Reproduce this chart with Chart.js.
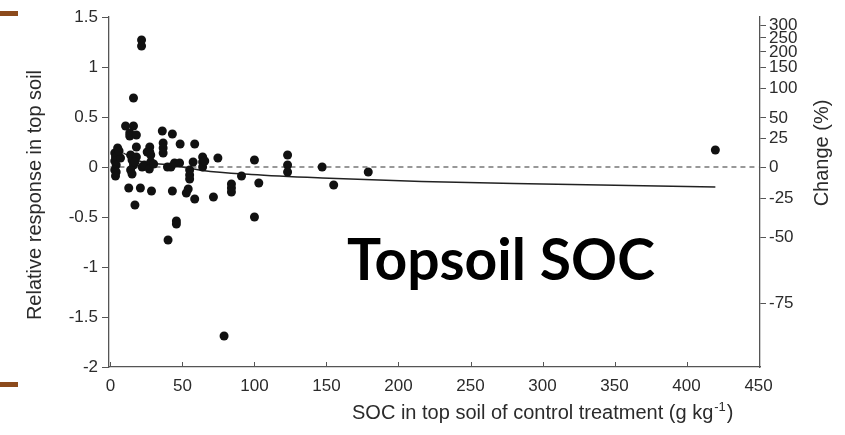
<!DOCTYPE html>
<html>
<head>
<meta charset="utf-8">
<title>Topsoil SOC</title>
<script src="https://cdn.jsdelivr.net/npm/chart.js@4/dist/chart.umd.min.js"></script>
<style>
    html, body { margin: 0; padding: 0; background: #fff; }
    #wrap { position: relative; width: 845px; height: 435px; }
    .mark { position: absolute; left: 0; width: 18px; height: 5px; background: #8c4a1c; }
</style>
</head>
<body>
<div id="wrap">
    <canvas id="socChart" width="845" height="435"></canvas>
    <div class="mark" style="top: 11px;"></div>
    <div class="mark" style="top: 382px;"></div>
</div>
<script>
    'use strict';

    // SOC of control treatment (g kg-1) and relative response
    var socX = [3, 3.5, 3, 4, 3, 4, 3.5, 5, 7, 6,
        10.5, 16, 13.4, 13.4, 18, 16, 21.6, 21.6, 18, 14, 15, 16, 14, 15, 12.7, 17, 18, 17,
        22, 23.5, 20.8, 25.5, 28, 27.3, 27.3, 28, 27, 30, 28.5,
        36, 43, 36.6, 36.6, 36.6, 39.6, 42, 44.5, 48, 48.4, 43, 40, 45.8, 45.8,
        52.7, 54, 55, 55, 55, 57.4, 58.5, 58.5, 64, 64, 64, 65.5,
        71.5, 74.6, 78.9, 84, 84, 84, 91, 100, 100, 103,
        123, 123, 123, 147, 155, 179, 420];
    var respY = [0.14, 0.10, 0.06, 0.02, -0.03, -0.05, -0.09, 0.19, 0.09, 0.16,
        0.41, 0.41, 0.34, 0.31, 0.32, 0.69, 1.27, 1.21, 0.20, 0.12, 0.07, 0.02, -0.03, -0.07, -0.21, -0.38, 0.10, 0.05,
        0.0, 0.02, -0.21, 0.15, 0.12, 0.20, 0.15, 0.05, -0.02, 0.03, -0.24,
        0.36, 0.33, 0.24, 0.19, 0.14, 0.0, 0.0, 0.04, 0.04, 0.23, -0.24, -0.73, -0.54, -0.57,
        -0.26, -0.22, -0.03, -0.08, -0.12, 0.05, 0.23, -0.32, 0.10, 0.05, 0.0, 0.06,
        -0.30, 0.09, -1.69, -0.17, -0.21, -0.25, -0.09, 0.07, -0.50, -0.16,
        0.12, 0.02, -0.05, 0.0, -0.18, -0.05, 0.17];

    // fitted curve, read at a few places
    var trendX = [9, 20, 42, 64, 98, 147, 216, 300, 360, 420];
    var trendY = [0.14, 0.06, 0.02, -0.035, -0.075, -0.11, -0.145, -0.17, -0.185, -0.20];

    // zero reference line
    var zeroX = [0, 450];
    var zeroY = [0, 0];

    var xTicks = [0, 50, 100, 150, 200, 250, 300, 350, 400, 450];
    var yTicks = [-2, -1.5, -1, -0.5, 0, 0.5, 1, 1.5];
    // right axis: percent change labels and where they sit on the left scale
    var changeTicks = [300, 250, 200, 150, 100, 50, 25, 0, -25, -50, -75];
    var changeTickPos = [1.42, 1.29, 1.15, 1.0, 0.79, 0.49, 0.29, 0, -0.31, -0.70, -1.36];

    var textColor = '#2b2b2b';
    var axisColor = '#555';
    var tickFont = { family: 'Liberation Sans, Arial, sans-serif', size: 17 };

    function toPoints(xs, ys) {
        return xs.map(function (x, i) { return { x: x, y: ys[i] }; });
    }

    var extrasPlugin = {
        id: 'extras',
        afterDraw: function (chart) {
            var ctx = chart.ctx;
            var x = chart.scales.x;
            var area = chart.chartArea;

            // bottom ticks point inward
            ctx.save();
            ctx.strokeStyle = axisColor;
            ctx.lineWidth = 1;
            x.ticks.forEach(function (t) {
                var px = Math.round(x.getPixelForValue(t.value)) + 0.5;
                ctx.beginPath();
                ctx.moveTo(px, area.bottom);
                ctx.lineTo(px, area.bottom - 5);
                ctx.stroke();
            });

            ctx.fillStyle = textColor;
            ctx.font = '20px "Liberation Sans", Arial, sans-serif';

            // left title
            ctx.save();
            ctx.translate(35, 195);
            ctx.rotate(-Math.PI / 2);
            ctx.textAlign = 'center';
            ctx.textBaseline = 'middle';
            ctx.fillText('Relative response in top soil', 0, 0);
            ctx.restore();

            // right title
            ctx.save();
            ctx.translate(822, 153);
            ctx.rotate(-Math.PI / 2);
            ctx.textAlign = 'center';
            ctx.textBaseline = 'middle';
            ctx.fillText('Change (%)', 0, 0);
            ctx.restore();

            // bottom title with superscript
            var part1 = 'SOC in top soil of control treatment (g kg';
            var sup = '-1';
            var part2 = ')';
            var bx = 352, by = 419;
            ctx.textAlign = 'left';
            ctx.textBaseline = 'alphabetic';
            ctx.fillText(part1, bx, by);
            var w1 = ctx.measureText(part1).width;
            ctx.font = '13px "Liberation Sans", Arial, sans-serif';
            ctx.fillText(sup, bx + w1 + 1, by - 8);
            var w2 = ctx.measureText(sup).width;
            ctx.font = '20px "Liberation Sans", Arial, sans-serif';
            ctx.fillText(part2, bx + w1 + w2 + 2, by);

            // big label
            ctx.fillStyle = '#000';
            ctx.font = 'bold 57px Lato, "Open Sans", sans-serif';
            ctx.textAlign = 'center';
            ctx.textBaseline = 'middle';
            ctx.fillText('Topsoil SOC', 501, 262);
            ctx.restore();
        }
    };

    function renderChart() {
        var ctx = document.getElementById('socChart').getContext('2d');
        new Chart(ctx, {
            type: 'scatter',
            data: {
                datasets: [{
                    label: 'Observations',
                    data: toPoints(socX, respY),
                    backgroundColor: '#111',
                    borderWidth: 0,
                    pointRadius: 4.5,
                    pointHoverRadius: 4.5
                }, {
                    label: 'Zero',
                    type: 'line',
                    data: toPoints(zeroX, zeroY),
                    borderColor: '#333',
                    borderWidth: 1.2,
                    borderDash: [5, 4],
                    pointRadius: 0,
                    fill: false
                }, {
                    label: 'Fit',
                    type: 'line',
                    data: toPoints(trendX, trendY),
                    borderColor: '#222',
                    borderWidth: 1.4,
                    cubicInterpolationMode: 'monotone',
                    pointRadius: 0,
                    fill: false
                }]
            },
            options: {
                responsive: false,
                animation: false,
                devicePixelRatio: 1,
                layout: { padding: { top: 17, left: 0, right: 0, bottom: 0 } },
                plugins: {
                    legend: { display: false },
                    tooltip: { enabled: false },
                    title: { display: false }
                },
                scales: {
                    x: {
                        type: 'linear',
                        min: -1,
                        max: 451,
                        afterBuildTicks: function (scale) {
                            scale.ticks = xTicks.map(function (v) { return { value: v }; });
                        },
                        afterFit: function (scale) { scale.height = 68; },
                        grid: { display: false, drawTicks: false },
                        border: { display: true, color: axisColor, width: 1.3 },
                        ticks: {
                            color: textColor, font: tickFont, padding: 9, maxRotation: 0,
                            callback: function (value) { return String(value); }
                        }
                    },
                    y: {
                        type: 'linear',
                        position: 'left',
                        min: -2,
                        max: 1.5,
                        afterBuildTicks: function (scale) {
                            scale.ticks = yTicks.map(function (v) { return { value: v }; });
                        },
                        afterFit: function (scale) { scale.width = 109; },
                        grid: { drawOnChartArea: false, drawTicks: true, tickLength: 7, color: axisColor },
                        border: { display: true, color: axisColor, width: 1.3 },
                        ticks: {
                            color: textColor, font: tickFont, padding: 4,
                            callback: function (value) { return String(value); }
                        }
                    },
                    y2: {
                        type: 'linear',
                        position: 'right',
                        min: -2,
                        max: 1.5,
                        afterBuildTicks: function (scale) {
                            scale.ticks = changeTickPos.map(function (v) { return { value: v }; });
                        },
                        afterFit: function (scale) { scale.width = 85; },
                        grid: { drawOnChartArea: false, drawTicks: true, tickLength: 6, color: axisColor },
                        border: { display: true, color: axisColor, width: 1.3 },
                        ticks: {
                            color: textColor,
                            font: tickFont,
                            padding: 3,
                            callback: function (value, index) { return String(changeTicks[index]); }
                        }
                    }
                }
            },
            plugins: [extrasPlugin]
        });
    }

    renderChart();
</script>
</body>
</html>
